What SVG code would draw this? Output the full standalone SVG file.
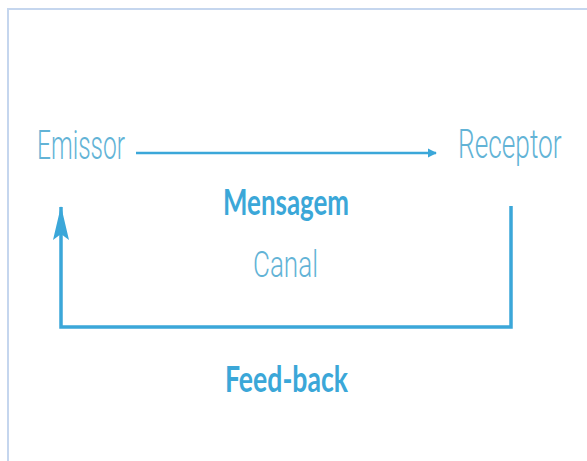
<svg xmlns="http://www.w3.org/2000/svg" width="587" height="461" viewBox="0 0 587 461">
  <style>
    .thin { font-family: Roboto, "Open Sans", "Liberation Sans", sans-serif; font-weight: 300; fill: #62b3d6; }
    .bold { font-family: Lato, "Open Sans", "Liberation Sans", sans-serif; font-weight: 700; fill: #3ba7d8; }
    .line { fill: none; stroke: #3ba7d9; stroke-linejoin: miter; }
  </style>
  <defs>
    <marker id="headSmall" viewBox="0 0 10 10" refX="9" refY="5" markerUnits="userSpaceOnUse" markerWidth="9" markerHeight="11" orient="auto">
      <path d="M0,0 L10,5 L0,10 Z" fill="#3ba7d9"/>
    </marker>
    <marker id="headBig" viewBox="0 0 34 16" refX="33" refY="8" markerUnits="userSpaceOnUse" markerWidth="34" markerHeight="16" orient="auto">
      <path d="M0,0 L34,8 L0,16 L6,8 Z" fill="#3ba7d9"/>
    </marker>
  </defs>
  <rect x="8" y="9" width="600" height="470" fill="#ffffff" stroke="#c5d6ee" stroke-width="2"/>

  <g id="connectors">
    <path id="mensagem-arrow" class="line" d="M136,153 L436,153" stroke-width="2.5" marker-end="url(#headSmall)"/>
    <path id="feedback-arrow" class="line" d="M511,206 L511,327 L61,327 L61,207" stroke-width="3.5" marker-end="url(#headBig)"/>
  </g>

  <g id="emissor">
    <text class="thin" x="37" y="159" font-size="41" textLength="88" lengthAdjust="spacingAndGlyphs">Emissor</text>
  </g>
  <g id="receptor" transform="translate(458,158) scale(0.72,1)">
    <text class="thin" x="0" y="0" font-size="40" textLength="144" lengthAdjust="spacingAndGlyphs">Receptor</text>
  </g>
  <g id="mensagem">
    <text class="bold" x="223" y="215" font-size="36" textLength="126" lengthAdjust="spacingAndGlyphs">Mensagem</text>
  </g>
  <g id="canal">
    <text class="thin" x="253" y="277" font-size="37" textLength="65" lengthAdjust="spacingAndGlyphs">Canal</text>
  </g>
  <g id="feedback">
    <text class="bold" x="225" y="392" font-size="37" textLength="123" lengthAdjust="spacingAndGlyphs">Feed-back</text>
  </g>
</svg>
